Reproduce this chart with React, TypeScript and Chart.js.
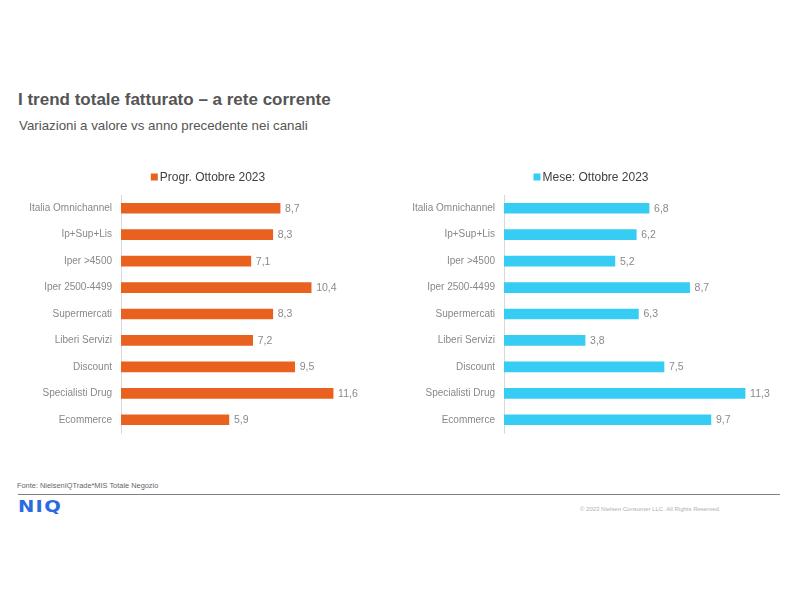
import React, { useEffect, useRef } from "react";
import { Chart, registerables } from "chart.js";

Chart.register(...registerables);

const categories = [
  "Italia Omnichannel",
  "Ip+Sup+Lis",
  "Iper >4500",
  "Iper 2500-4499",
  "Supermercati",
  "Liberi Servizi",
  "Discount",
  "Specialisti Drug",
  "Ecommerce",
];
const progrLabel = "Progr. Ottobre 2023";
const progrValues = [8.7, 8.3, 7.1, 10.4, 8.3, 7.2, 9.5, 11.6, 5.9];
const meseLabel = "Mese: Ottobre 2023";
const meseValues = [6.8, 6.2, 5.2, 8.7, 6.3, 3.8, 7.5, 11.3, 9.7];

const ORANGE = "#E9611F";
const CYAN = "#36CCF4";
const FONT = "'Liberation Sans', Arial, sans-serif";
const CANVAS_H = 288;

const valueLabels = {
  id: "valueLabels",
  afterDatasetsDraw(chart: any) {
    const ctx = chart.ctx;
    ctx.save();
    ctx.font = `10.5px ${FONT}`;
    ctx.fillStyle = "#8a8a8a";
    ctx.textBaseline = "middle";
    ctx.textAlign = "left";
    chart.data.datasets.forEach((ds: any, di: number) => {
      const meta = chart.getDatasetMeta(di);
      meta.data.forEach((bar: any, i: number) => {
        const v = ds.data[i];
        ctx.fillText(String(v).replace(".", ","), bar.x + 5, bar.y + 0.5);
      });
    });
    ctx.restore();
  },
};

const customLegend = {
  id: "customLegend",
  afterDraw(chart: any, _args: any, opts: any) {
    const ctx = chart.ctx;
    const ds = chart.data.datasets[0];
    ctx.save();
    ctx.font = `12px ${FONT}`;
    const text = ds.label;
    const w = ctx.measureText(text).width;
    const total = 9 + w;
    const x0 = opts.cx - total / 2;
    const y = opts.cy;
    ctx.fillStyle = ds.backgroundColor;
    ctx.fillRect(x0, y - 3.5, 7, 7);
    ctx.fillStyle = "#404040";
    ctx.textBaseline = "middle";
    ctx.textAlign = "left";
    ctx.fillText(text, x0 + 9, y + 0.5);
    ctx.restore();
  },
};

function BarPanel(props: {
  label: string;
  values: number[];
  color: string;
  left: number;
  width: number;
  axisWidth: number;
  xMax: number;
  padRight: number;
  legendCx: number;
}) {
  const ref = useRef<HTMLCanvasElement>(null);
  useEffect(() => {
    if (!ref.current) return;
    const chart = new Chart(ref.current, {
      type: "bar",
      data: {
        labels: categories,
        datasets: [
          {
            label: props.label,
            data: props.values,
            backgroundColor: props.color,
            borderWidth: 0,
            barThickness: 10,
          },
        ],
      },
      options: {
        indexAxis: "y",
        animation: false,
        responsive: false,
        maintainAspectRatio: false,
        layout: {
          autoPadding: false,
          padding: { top: 35, right: props.padRight, bottom: 0, left: 0 },
        },
        plugins: {
          legend: { display: false },
          tooltip: { enabled: false },
          customLegend: { cx: props.legendCx, cy: 17 },
        } as any,
        scales: {
          x: {
            display: false,
            min: 0,
            max: props.xMax,
            grid: { display: false },
          },
          y: {
            grid: { display: false, drawTicks: false },
            border: { display: true, color: "#d9d9d9", width: 1 },
            ticks: {
              color: "#888888",
              font: { family: FONT, size: 10 },
              padding: 9,
            },
            afterFit(scale: any) {
              scale.width = props.axisWidth;
            },
          },
        },
      },
      plugins: [valueLabels, customLegend],
    });
    return () => chart.destroy();
  }, []);
  return (
    <canvas
      ref={ref}
      width={props.width}
      height={CANVAS_H}
      style={{ position: "absolute", left: props.left, top: 160, width: props.width, height: CANVAS_H }}
    />
  );
}

export default function App() {
  return (
    <div
      style={{
        position: "absolute",
        left: 0,
        top: 0,
        width: 800,
        height: 600,
        background: "#fff",
        fontFamily: FONT,
        overflow: "hidden",
      }}
    >
      <div
        style={{
          position: "absolute",
          left: 18,
          top: 90,
          fontSize: 17,
          fontWeight: "bold",
          color: "#555555",
          whiteSpace: "nowrap",
        }}
      >
        I trend totale fatturato – a rete corrente
      </div>
      <div
        style={{
          position: "absolute",
          left: 19,
          top: 118,
          fontSize: 13.3,
          color: "#555555",
          whiteSpace: "nowrap",
        }}
      >
        Variazioni a valore vs anno precedente nei canali
      </div>
      <BarPanel
        label={progrLabel}
        values={progrValues}
        color={ORANGE}
        left={10}
        width={380}
        axisWidth={111}
        xMax={14}
        padRight={13}
        legendCx={198}
      />
      <BarPanel
        label={meseLabel}
        values={meseValues}
        color={CYAN}
        left={400}
        width={380}
        axisWidth={104}
        xMax={12}
        padRight={20}
        legendCx={191}
      />
      <div
        style={{
          position: "absolute",
          left: 17,
          top: 481,
          fontSize: 7.4,
          color: "#666",
          whiteSpace: "nowrap",
        }}
      >
        Fonte: NielsenIQTrade*MIS Totale Negozio
      </div>
      <div
        style={{
          position: "absolute",
          left: 18,
          top: 494,
          width: 762,
          height: 1,
          background: "#808080",
        }}
      />
      <div
        style={{
          position: "absolute",
          left: 18,
          top: 498,
          fontSize: 15,
          lineHeight: "18px",
          fontFamily: "'DejaVu Sans', sans-serif",
          fontWeight: "bold",
          color: "#2B6BE2",
          letterSpacing: 1,
          transform: "scaleX(1.3)",
          transformOrigin: "left top",
          whiteSpace: "nowrap",
        }}
      >
        NIQ
      </div>
      <div
        style={{
          position: "absolute",
          left: 580,
          top: 506,
          fontSize: 6,
          color: "#b0b0b0",
          whiteSpace: "nowrap",
        }}
      >
        © 2023 Nielsen Consumer LLC. All Rights Reserved.
      </div>
    </div>
  );
}
